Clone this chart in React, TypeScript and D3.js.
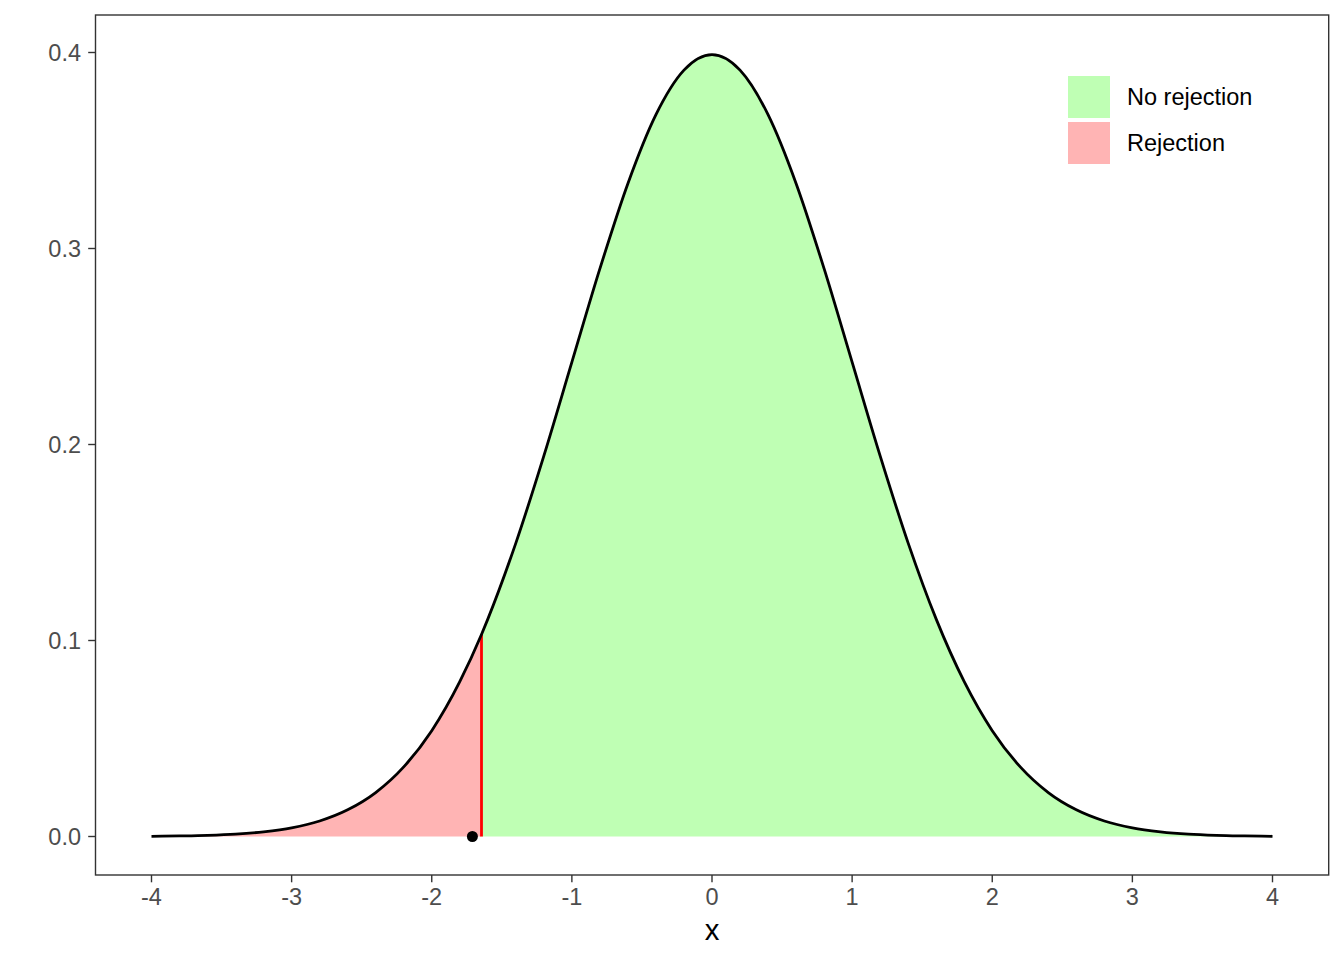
import React from "react";
import * as d3 from "d3";

const densX = [-4, -3.8, -3.6, -3.4, -3.2, -3, -2.8, -2.6, -2.4, -2.2, -2, -1.8, -1.6, -1.4, -1.2, -1, -0.8, -0.6, -0.4, -0.2, 0,
  0.2, 0.4, 0.6, 0.8, 1, 1.2, 1.4, 1.6, 1.8, 2, 2.2, 2.4, 2.6, 2.8, 3, 3.2, 3.4, 3.6, 3.8, 4];
const densY = [0.0001, 0.0003, 0.0006, 0.0012, 0.0024, 0.0044, 0.0079, 0.0136, 0.0224, 0.0355, 0.054, 0.079, 0.1109, 0.1497, 0.1942, 0.242, 0.2897, 0.3332, 0.3683, 0.391, 0.3989,
  0.391, 0.3683, 0.3332, 0.2897, 0.242, 0.1942, 0.1497, 0.1109, 0.079, 0.054, 0.0355, 0.0224, 0.0136, 0.0079, 0.0044, 0.0024, 0.0012, 0.0006, 0.0003, 0.0001];
const criticalX = -1.645;
const criticalY = 0.1031;
const observedX = -1.71;
const xTicks = [-4, -3, -2, -1, 0, 1, 2, 3, 4];
const yTicks = [0.0, 0.1, 0.2, 0.3, 0.4];
const legendLabels = ["No rejection", "Rejection"];
const legendColors = ["#BFFFB4", "#FFB4B4"];

export default function App() {
  const W = 1344, H = 960;
  const pl = 95.5, pr = 1328.7, pt = 15, pb = 875;
  const x = d3.scaleLinear().domain([-4, 4]).range([151.5, 1272.5]);
  const y = d3.scaleLinear().domain([0, 0.4]).range([836.5, 52.5]);

  const pts = densX.map((v, i) => ({ x: v, y: densY[i] }));
  const rej = [...pts.filter(p => p.x < criticalX), { x: criticalX, y: criticalY }];
  const acc = [{ x: criticalX, y: criticalY }, ...pts.filter(p => p.x > criticalX)];

  const area = d3.area<{ x: number; y: number }>()
    .x(d => x(d.x)).y0(y(0)).y1(d => y(d.y)).curve(d3.curveMonotoneX);
  const line = d3.line<{ x: number; y: number }>()
    .x(d => x(d.x)).y(d => y(d.y)).curve(d3.curveMonotoneX);
  const full = [...rej, ...acc.slice(1)];

  const font = "'Liberation Sans', Arial, sans-serif";
  const fmtY = d3.format(".1f");

  return (
    <svg width={W} height={H} style={{ position: "absolute", left: 0, top: 0, background: "#fff" }} fontFamily={font}>
      <rect x={0} y={0} width={W} height={H} fill="#fff" />
      <path d={area(acc) || ""} fill={legendColors[0]} />
      <path d={area(rej) || ""} fill={legendColors[1]} />
      <line x1={x(criticalX)} x2={x(criticalX)} y1={y(0)} y2={y(criticalY)} stroke="#FF0000" strokeWidth={2.8} />
      <path d={line(full) || ""} fill="none" stroke="#000" strokeWidth={2.8} />
      <circle cx={x(observedX)} cy={y(0)} r={5.5} fill="#000" />
      <rect x={pl} y={pt} width={pr - pl} height={pb - pt} fill="none" stroke="#333333" strokeWidth={1.4} />
      {xTicks.map(t => (
        <g key={"x" + t}>
          <line x1={x(t)} x2={x(t)} y1={pb} y2={pb + 7.3} stroke="#333333" strokeWidth={1.4} />
          <text x={x(t)} y={905} textAnchor="middle" fontSize={23.5} fill="#4D4D4D">{t}</text>
        </g>
      ))}
      {yTicks.map(t => (
        <g key={"y" + t}>
          <line x1={pl - 7.3} x2={pl} y1={y(t)} y2={y(t)} stroke="#333333" strokeWidth={1.4} />
          <text x={81} y={y(t) + 8.4} textAnchor="end" fontSize={23.5} fill="#4D4D4D">{fmtY(t)}</text>
        </g>
      ))}
      <text x={(pl + pr) / 2} y={940} textAnchor="middle" fontSize={29.3} fill="#000">x</text>
      {legendLabels.map((l, i) => (
        <g key={l}>
          <rect x={1068} y={76 + i * 46} width={42} height={42} fill={legendColors[i]} />
          <text x={1127} y={97 + i * 46 + 8.4} fontSize={23.5} fill="#000">{l}</text>
        </g>
      ))}
    </svg>
  );
}
